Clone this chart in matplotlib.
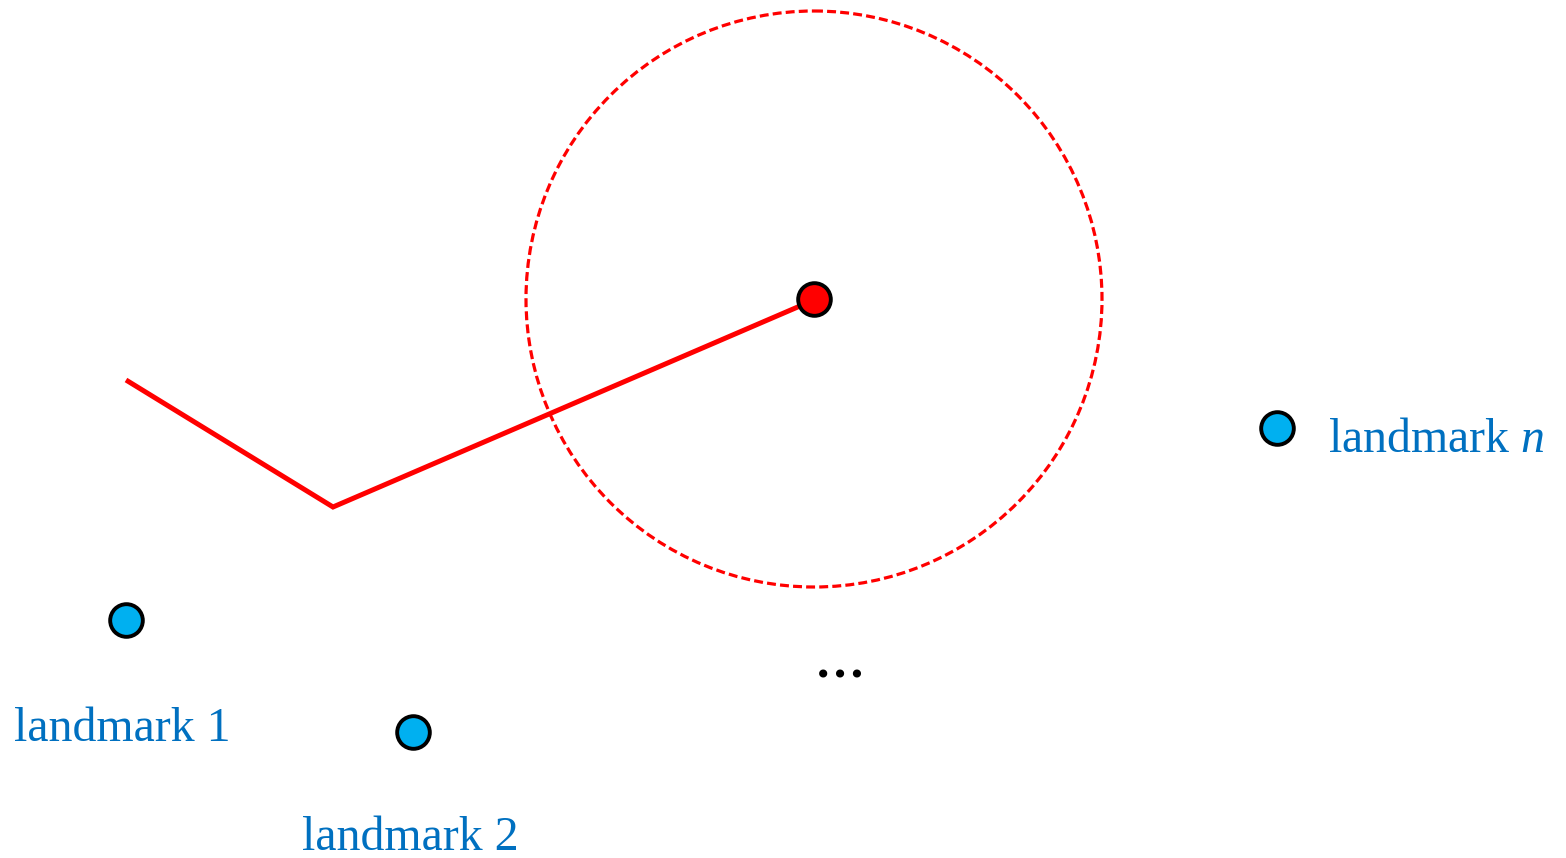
import matplotlib.pyplot as plt
from matplotlib.patches import Circle

# trajectory of the robot (image-like coordinates, y grows downwards)
path_x = [126, 333, 814]
path_y = [380, 507, 300]

# current pose and its uncertainty / sensing range
robot = (814, 299)
range_radius = 288

# landmarks and their labels
lm_x = [126, 413, 1277]
lm_y = [620, 732, 428]
lm_labels = ["landmark 1", "landmark 2", r"landmark $\mathit{n}$"]
label_x = [14, 302, 1328]
label_y = [729, 838, 440]

plt.rcParams['font.family'] = ['Liberation Serif', 'DejaVu Serif']
plt.rcParams['mathtext.fontset'] = 'custom'
plt.rcParams['mathtext.it'] = 'Liberation Serif:italic'
plt.rcParams['mathtext.rm'] = 'Liberation Serif'

fig = plt.figure(figsize=(15.66, 8.58), dpi=100)
ax = fig.add_axes([0, 0, 1, 1])
ax.set_xlim(0, 1566)
ax.set_ylim(858, 0)
ax.axis('off')

# sensing range
ax.add_patch(Circle(robot, range_radius, fill=False, edgecolor='#ff0000',
                    linewidth=2.3, linestyle=(0, (2.8, 1.3))))

# path
ax.plot(path_x, path_y, color='#ff0000', linewidth=3.6, solid_capstyle='butt',
        solid_joinstyle='miter', zorder=3)
ax.plot(*robot, 'o', markersize=23.5, markerfacecolor='#ff0000',
        markeredgecolor='black', markeredgewidth=2.8, zorder=4)

# landmarks
ax.plot(lm_x, lm_y, 'o', linestyle='none', markersize=23.5,
        markerfacecolor='#00b0f0', markeredgecolor='black',
        markeredgewidth=2.8, zorder=4)
for x, y, s in zip(label_x, label_y, lm_labels):
    ax.text(x, y, s, fontsize=34.5, color='#0070c0', ha='left', va='center')

ax.text(840, 666, "…", fontsize=36, fontweight='bold', color='black',
        ha='center', va='center')

fig.savefig('out.png', dpi=100)
